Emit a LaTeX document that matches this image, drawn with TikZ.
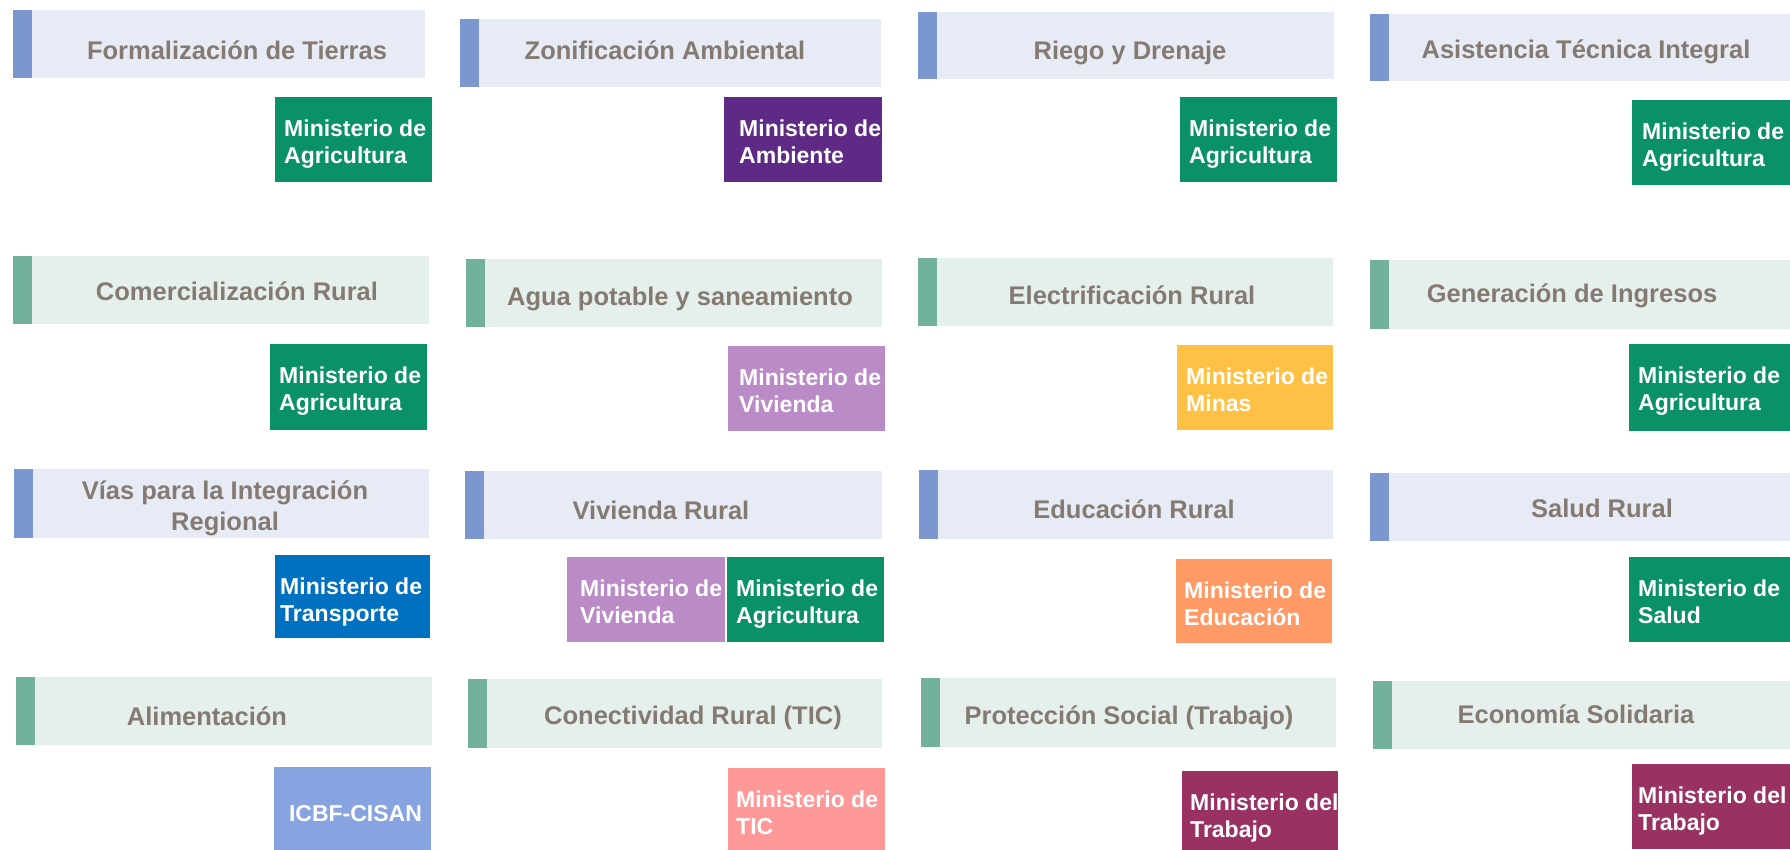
\documentclass[tikz,border=0pt]{standalone}
\usepackage{fontspec}
\setmainfont{Liberation Sans}
\usetikzlibrary{calc}
\definecolor{hbbg}{HTML}{E7EBF6}
\definecolor{hbacc}{HTML}{7C97CF}
\definecolor{hgbg}{HTML}{E5F0ED}
\definecolor{hgacc}{HTML}{72B29B}
\definecolor{htxt}{HTML}{857A71}
\definecolor{agri}{HTML}{0A9167}
\definecolor{ambiente}{HTML}{5F2A86}
\definecolor{vivienda}{HTML}{BB8BC7}
\definecolor{minas}{HTML}{FFC145}
\definecolor{transporte}{HTML}{0070C0}
\definecolor{educacion}{HTML}{FF9966}
\definecolor{icbf}{HTML}{87A4E0}
\definecolor{tic}{HTML}{FF9999}
\definecolor{trabajo}{HTML}{9A3163}
\tikzset{
  hdrbox/.style={rectangle, inner sep=0pt, outer sep=0pt, anchor=north west},
  htext/.style={inner sep=0pt, anchor=base, text=htxt, font=\fontsize{25.5}{30}\selectfont\bfseries},
  minbox/.style={rectangle, inner sep=0pt, outer sep=0pt, anchor=north west},
  mtext/.style={inner sep=0pt, anchor=base west, text=white, font=\fontsize{23}{27}\selectfont\bfseries},
}
% #1 name #2 x1 #3 y1 #4 x2 #5 y2 #6 set (hb/hg) #7 text #8 tx #9 baseline
\newcommand\hdrnode[9]{%
  \node[hdrbox, fill=#6bg, minimum width=#4pt-#2pt, minimum height=#5pt-#3pt] (#1) at (#2,#3) {};
  \fill[#6acc] (#1.north west) rectangle ($(#1.south west)+(19,0)$);
  \node[htext] (#1t) at (#8,#9) {#7};
}
% #1 name #2 x1 #3 y1 #4 x2 #5 y2 #6 color #7 line1 #8 line2 #9 inset
\newcommand\minnode[9]{%
  \node[minbox, fill=#6, minimum width=#4pt-#2pt, minimum height=#5pt-#3pt] (#1) at (#2,#3) {};
  \node[mtext] (#1a) at ($(#1.north west)+(#9,39)$) {#7};
  \node[mtext] (#1b) at ($(#1.north west)+(#9,66)$) {#8};
}
\begin{document}
\begin{tikzpicture}[x=1pt,y=-1pt]
\clip (0,0) rectangle (1790,849);
\fill[white] (0,0) rectangle (1790,849);
% row 1
\hdrnode{h1}{13}{10}{425}{78}{hb}{Formalización de Tierras}{237}{59}
\hdrnode{h2}{460}{19}{881}{87}{hb}{Zonificación Ambiental}{665}{59}
\hdrnode{h3}{918}{12}{1334}{79}{hb}{Riego y Drenaje}{1130}{59}
\hdrnode{h4}{1370}{14}{1790}{81}{hb}{Asistencia Técnica Integral}{1586}{58}
\minnode{m1}{275}{97}{432}{182}{agri}{Ministerio de}{Agricultura}{9}
\minnode{m2}{724}{97}{882}{182}{ambiente}{Ministerio de}{Ambiente}{15}
\minnode{m3}{1180}{97}{1337}{182}{agri}{Ministerio de}{Agricultura}{9}
\minnode{m4}{1632}{100}{1790}{185}{agri}{Ministerio de}{Agricultura}{10}
% row 2
\hdrnode{h5}{13}{256}{429}{324}{hg}{Comercialización Rural}{237}{300}
\hdrnode{h6}{466}{259}{882}{327}{hg}{Agua potable y saneamiento}{680}{305}
\hdrnode{h7}{918}{258}{1333}{326}{hg}{Electrificación Rural}{1132}{304}
\hdrnode{h8}{1370}{260}{1790}{329}{hg}{Generación de Ingresos}{1572}{302}
\minnode{m5}{270}{344}{427}{430}{agri}{Ministerio de}{Agricultura}{9}
\minnode{m6}{728}{346}{885}{431}{vivienda}{Ministerio de}{Vivienda}{11}
\minnode{m7}{1177}{345}{1333}{430}{minas}{Ministerio de}{Minas}{9}
\minnode{m8}{1629}{344}{1790}{431}{agri}{Ministerio de}{Agricultura}{9}
% row 3
\hdrnode{h9}{14}{469}{429}{538}{hb}{Vías para la Integración}{225}{499}
\node[htext] (h9u) at (225,530) {Regional};
\hdrnode{h10}{465}{471}{882}{539}{hb}{Vivienda Rural}{661}{519}
\hdrnode{h11}{919}{470}{1333}{539}{hb}{Educación Rural}{1134}{518}
\hdrnode{h12}{1370}{473}{1790}{541}{hb}{Salud Rural}{1602}{517}
\minnode{m9}{275}{555}{430}{638}{transporte}{Ministerio de}{Transporte}{5}
\minnode{m10}{567}{557}{725}{642}{vivienda}{Ministerio de}{Vivienda}{13}
\minnode{m11}{727}{557}{884}{642}{agri}{Ministerio de}{Agricultura}{9}
\minnode{m12}{1176}{559}{1332}{643}{educacion}{Ministerio de}{Educación}{8}
\minnode{m13}{1629}{557}{1790}{642}{agri}{Ministerio de}{Salud}{9}
% row 4
\hdrnode{h13}{16}{677}{432}{745}{hg}{Alimentación}{207}{725}
\hdrnode{h14}{468}{679}{882}{748}{hg}{Conectividad Rural (TIC)}{693}{724}
\hdrnode{h15}{921}{678}{1336}{747}{hg}{Protección Social (Trabajo)}{1129}{724}
\hdrnode{h16}{1373}{681}{1790}{749}{hg}{Economía Solidaria}{1576}{723}
\node[minbox, fill=icbf, minimum width=157pt, minimum height=85pt] (m14) at (274,767) {};
\node[mtext, anchor=base] (m14a) at ($(m14.north)+(3,54)$) {ICBF-CISAN};
\minnode{m15}{728}{768}{885}{853}{tic}{Ministerio de}{TIC}{8}
\minnode{m16}{1182}{771}{1338}{856}{trabajo}{Ministerio del}{Trabajo}{8}
\minnode{m17}{1632}{764}{1790}{849}{trabajo}{Ministerio del}{Trabajo}{6}
\end{tikzpicture}
\end{document}
